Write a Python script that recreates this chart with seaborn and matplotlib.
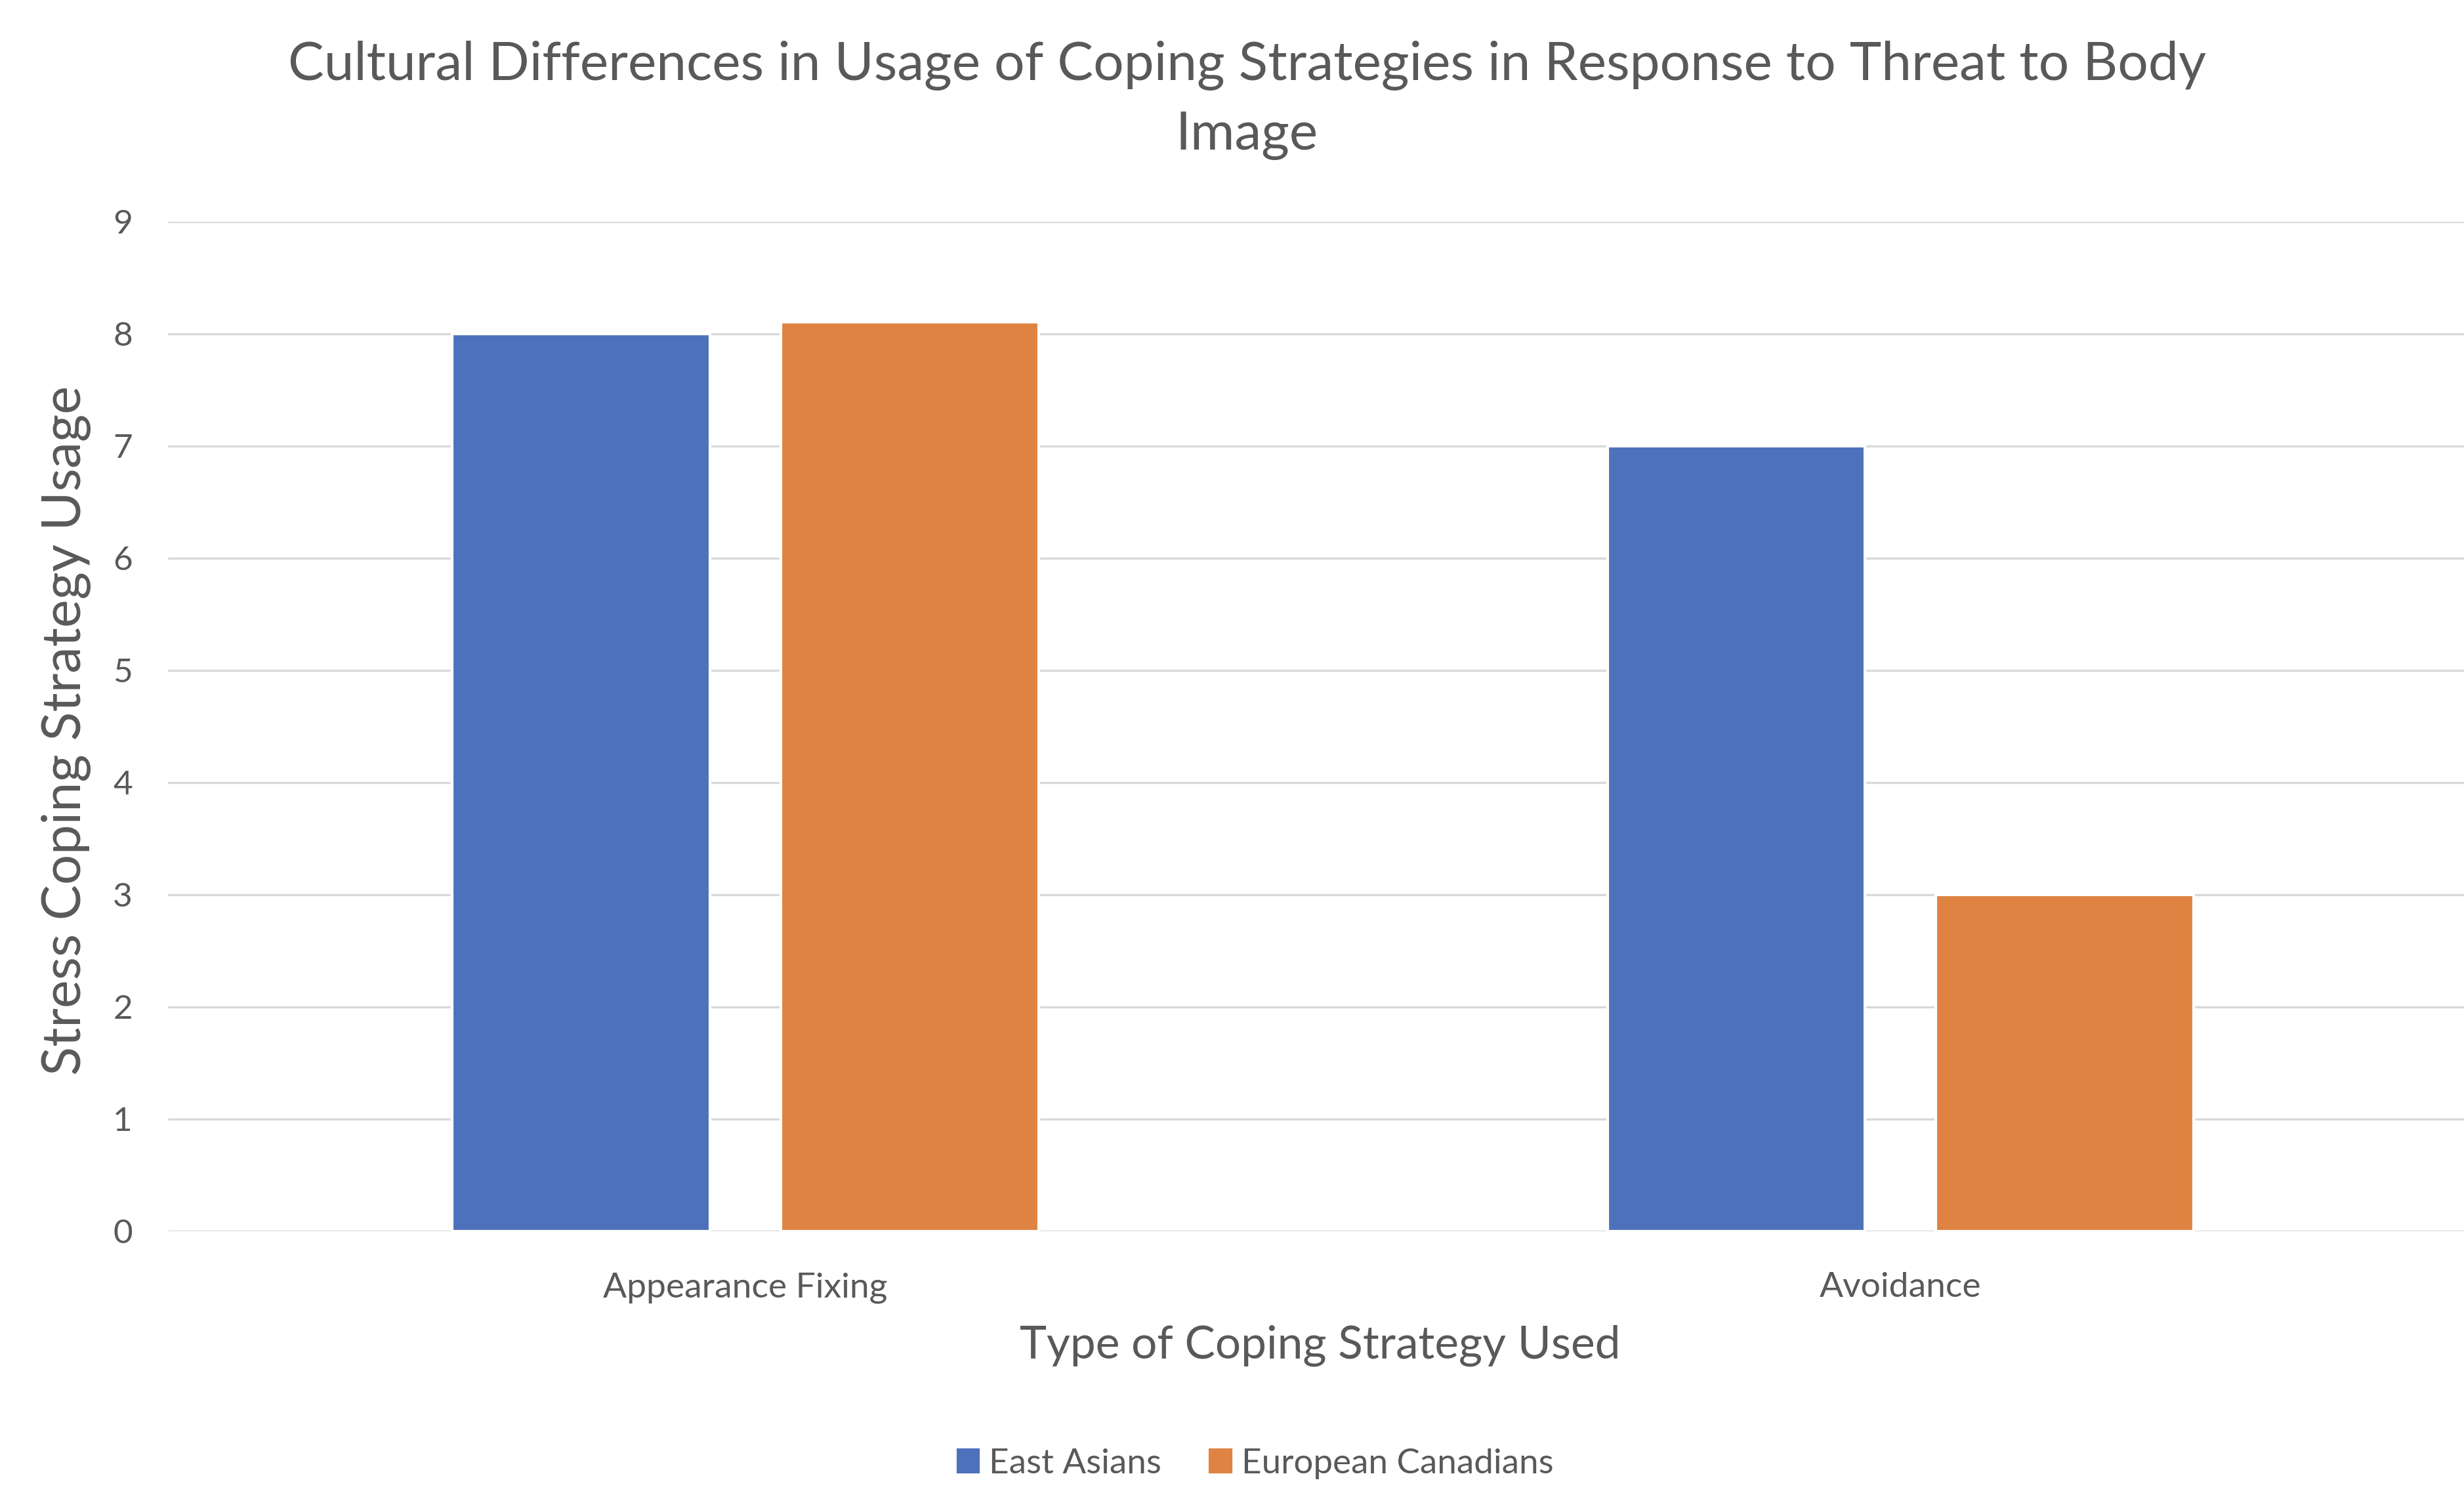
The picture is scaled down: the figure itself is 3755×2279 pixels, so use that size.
import pandas as pd
import matplotlib
matplotlib.use("Agg")
import matplotlib.pyplot as plt
import seaborn as sns

# data
categories = ["Appearance Fixing", "Avoidance"]
groups = ["East Asians", "European Canadians"]
east_asians = [8, 7]
european_canadians = [8.1, 3]
y_ticks = [0, 1, 2, 3, 4, 5, 6, 7, 8, 9]

df = pd.DataFrame({
    "strategy": categories * 2,
    "group": [groups[0]] * 2 + [groups[1]] * 2,
    "usage": east_asians + european_canadians,
})

sns.set_style("white")
plt.rcParams["font.family"] = ["Lato", "DejaVu Sans"]

grey = "#595959"
colors = ["#4D71BB", "#DE8341"]

fig = plt.figure(figsize=(3755 / 300, 2279 / 300), dpi=300)
# the plot area runs a bit past the right edge in the original
ax = fig.add_axes([0.0682, 0.1765, 1.0057 - 0.0682, 0.8519 - 0.1765])

sns.barplot(data=df, x="strategy", y="usage", hue="group", palette=colors,
            width=0.569, gap=0.216, saturation=1, ax=ax, legend=False)

ax.set_ylim(0, 9)
ax.set_yticks(y_ticks)
ax.set_xlim(-0.5, 1.5)
ax.yaxis.grid(True, color="#D9D9D9", linewidth=0.8)
ax.set_axisbelow(True)
for s in ax.spines.values():
    s.set_visible(False)
ax.tick_params(axis="both", length=0, labelcolor=grey)
ax.tick_params(axis="y", pad=13, labelsize=12.3)
ax.tick_params(axis="x", pad=15, labelsize=12.8)
ax.set_xlabel("")
ax.set_ylabel("")

fig.text(0.506, 0.933,
         "Cultural Differences in Usage of Coping Strategies in Response to Threat to Body\nImage",
         ha="center", va="center", fontsize=19.7, color=grey, linespacing=1.5)
fig.text(0.0268, 0.5116, "Stress Coping Strategy Usage", rotation=90,
         ha="center", va="center", fontsize=19.5, color=grey)
fig.text(0.5357, 0.0998, "Type of Coping Strategy Used",
         ha="center", va="center", fontsize=16.7, color=grey)

handles = [plt.Rectangle((0, 0), 1, 1, color=c) for c in colors]
fig.legend(handles, groups, loc="center", bbox_to_anchor=(0.5096, 0.021),
           ncol=2, frameon=False, fontsize=12.7, labelcolor=grey,
           handlelength=0.6, handleheight=0.6, handletextpad=0.3,
           columnspacing=1.4)

fig.savefig("out.png", dpi=300)
